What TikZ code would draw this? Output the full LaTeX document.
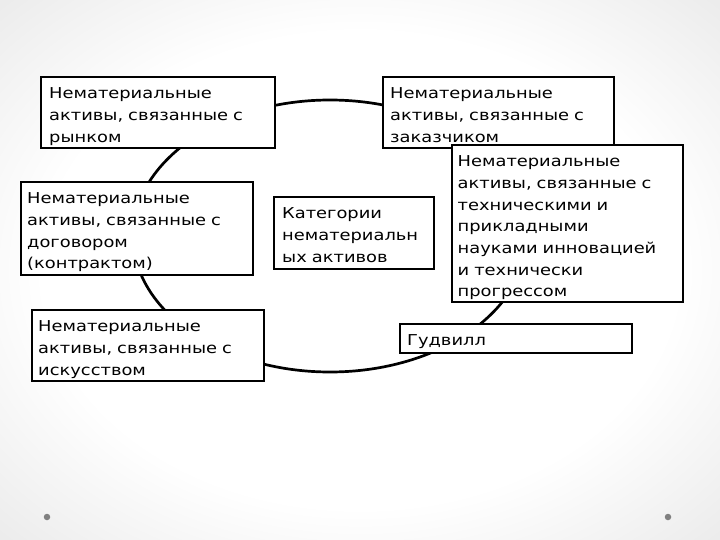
\documentclass[tikz,border=0pt]{standalone}
\usepackage{fontspec}
\setmainfont{DejaVu Sans}[FakeStretch=1.19]
\pgfdeclareradialshading{bgshade}{\pgfpoint{0bp}{0bp}}{color(0bp)=(white); color(22bp)=(white); color(50bp)=(black!16); color(71bp)=(black!24)}
\begin{document}
\begin{tikzpicture}[x=1pt,y=-1pt,
  box/.style={draw=black, line width=1.8pt, fill=white, anchor=north west,
    inner sep=0pt, outer sep=0pt},
  txt/.style={anchor=north west, inner sep=0pt, align=left, text width=215pt,
    font=\fontsize{15}{21.7}\selectfont},
  ring/.style={draw=black, line width=2.7pt},
  dot/.style={circle, fill=black!50, inner sep=0pt, minimum size=6.5pt}
]
\useasboundingbox (0,0) rectangle (720,540);
\shade[shading=bgshade] (0,0) rectangle (720,540);

\draw[ring] (330,236) ellipse [x radius=197pt, y radius=136pt];

% boxes
\node[box, minimum width=234pt, minimum height=71pt] (market) at (41,77) {};
\node[box, minimum width=231pt, minimum height=71pt] (client) at (383,77) {};
\node[box, minimum width=231pt, minimum height=157pt] (tech) at (452,145) {};
\node[box, minimum width=232pt, minimum height=93pt] (contract) at (21,182) {};
\node[box, minimum width=160pt, minimum height=72pt] (cat) at (274,197) {};
\node[box, minimum width=232pt, minimum height=71pt] (art) at (32,310) {};
\node[box, minimum width=232pt, minimum height=29pt] (goodwill) at (400,324) {};

% texts
\node[txt] (market-t) at ([xshift=8pt, yshift=-10.5pt]market.north west)
  {Нематериальные\\активы, связанные с\\рынком};
\node[txt] (client-t) at ([xshift=7pt, yshift=-10.5pt]client.north west)
  {Нематериальные\\активы, связанные с\\заказчиком};
\node[txt] (tech-t) at ([xshift=5.5pt, yshift=-10.5pt]tech.north west)
  {Нематериальные\\активы, связанные с\\техническими и\\прикладными\\науками инновацией\\и технически\\прогрессом};
\node[txt] (contract-t) at ([xshift=6pt, yshift=-10.5pt]contract.north west)
  {Нематериальные\\активы, связанные с\\договором\\(контрактом)};
\node[txt] (cat-t) at ([xshift=8pt, yshift=-10.5pt]cat.north west)
  {Категории\\нематериальн\\ых активов};
\node[txt] (art-t) at ([xshift=6pt, yshift=-10.5pt]art.north west)
  {Нематериальные\\активы, связанные с\\искусством};
\node[txt] (goodwill-t) at ([xshift=7pt, yshift=-10.5pt]goodwill.north west)
  {Гудвилл};

\node[dot] (dl) at (47,517) {};
\node[dot] (dr) at (668,517) {};
\end{tikzpicture}
\end{document}
